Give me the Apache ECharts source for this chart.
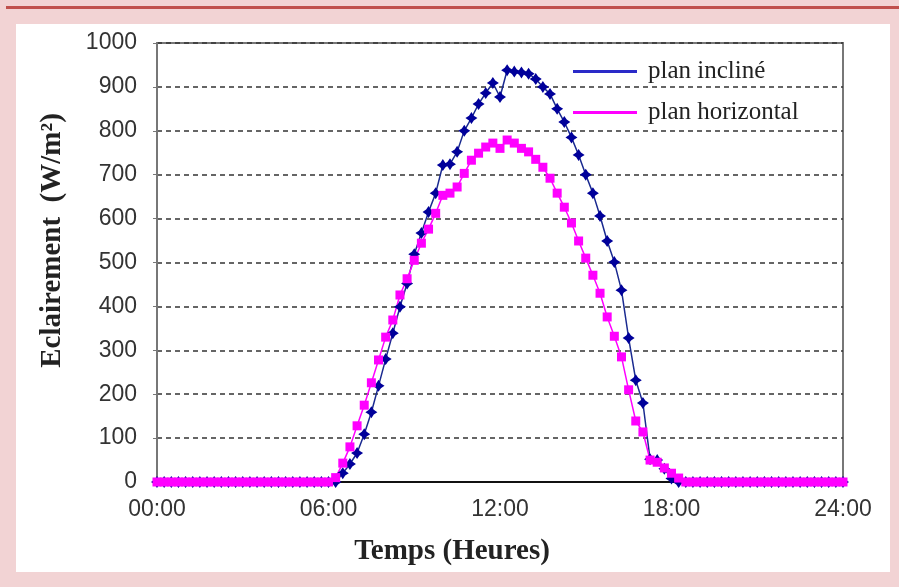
<!DOCTYPE html>
<html>
<head>
<meta charset="utf-8">
<script src="https://cdn.jsdelivr.net/npm/echarts@6/dist/echarts.min.js"></script>
<style>
  html, body { margin: 0; padding: 0; width: 899px; height: 587px; overflow: hidden; background: #f2d3d4; }
  #topline { position: absolute; left: 6px; top: 6px; width: 893px; height: 3px; background: #c0504d; }
  #panel { position: absolute; left: 16px; top: 24px; width: 874px; height: 548px; background: #ffffff; }
  #chart { position: absolute; left: 0; top: 0; width: 899px; height: 587px; }
</style>
</head>
<body>
<div id="topline"></div>
<div id="panel"></div>
<div id="chart"></div>
<script>
// mesures toutes les 15 minutes, de 00:00 a 24:00 (97 points)
var stepMinutes = 15
var xTicks = [0, 6, 12, 18, 24]

var planIncline = [
  0, 0, 0, 0, 0, 0, 0, 0, 0, 0, 0, 0, 0, 0, 0, 0, 0, 0, 0, 0, 0, 0, 0, 0, // 00:00 - 05:45
  0, 0, 20, 41, 66, 109, 159, 219, 280, 339, 399, 452,                     // 06:00 - 08:45
  519, 567, 615, 658, 722, 724, 752, 800, 829, 861, 886, 909,              // 09:00 - 11:45
  877, 938, 935, 933, 930, 918, 900, 884, 850, 820, 785, 745,              // 12:00 - 14:45
  700, 658, 606, 549, 501, 437, 328, 232, 180, 52, 50, 30,                 // 15:00 - 17:45
  8, 0, 0, 0, 0, 0, 0, 0, 0, 0, 0, 0, 0, 0, 0, 0, 0, 0, 0, 0, 0, 0, 0, 0,  // 18:00 - 23:45
  0                                                                        // 24:00
]

var planHorizontal = [
  0, 0, 0, 0, 0, 0, 0, 0, 0, 0, 0, 0, 0, 0, 0, 0, 0, 0, 0, 0, 0, 0, 0, 0,
  0, 10, 43, 80, 128, 175, 226, 278, 330, 369, 426, 463,
  505, 544, 576, 612, 653, 658, 672, 703, 733, 749, 763, 772,
  760, 779, 772, 760, 752, 735, 717, 692, 658, 626, 590, 549,
  510, 471, 430, 376, 332, 285, 210, 139, 114, 50, 45, 32,
  20, 9, 0, 0, 0, 0, 0, 0, 0, 0, 0, 0, 0, 0, 0, 0, 0, 0, 0, 0, 0, 0, 0, 0,
  0
]

function toPairs(values) {
  var out = []
  for (var i = 0; i < values.length; i++) {
    out.push([i * stepMinutes / 60, values[i]])
  }
  return out
}

function hourLabel(h) {
  return (h < 10 ? '0' : '') + h + ':00'
}

var starPath = 'path://M0,-10 L4,-4 L10,0 L4,4 L0,10 L-4,4 L-10,0 L-4,-4 Z'

var chart = echarts.init(document.getElementById('chart'))
chart.setOption({
  animation: false,
  grid: {
    left: 157,
    right: 56,
    top: 43,
    bottom: 105,
    show: true,
    borderColor: '#777',
    borderWidth: 2
  },
  legend: {
    orient: 'vertical',
    left: 568,
    top: 54,
    itemWidth: 64,
    itemHeight: 3,
    itemGap: 16,
    textStyle: {
      fontFamily: 'Liberation Serif',
      fontSize: 25,
      lineHeight: 25,
      color: '#222',
      padding: [0, 0, 0, 6]
    },
    data: [
      { name: 'plan incliné', icon: 'rect', itemStyle: { color: '#2a2ac8' } },
      { name: 'plan horizontal', icon: 'rect', itemStyle: { color: '#ff00ff' } }
    ]
  },
  xAxis: {
    type: 'value',
    min: 0,
    max: 24,
    interval: 6,
    name: 'Temps (Heures)',
    nameLocation: 'middle',
    nameGap: 55,
    nameTextStyle: {
      fontFamily: 'Liberation Serif',
      fontWeight: 'bold',
      fontSize: 29,
      color: '#222',
      padding: [0, 96, 0, 0]
    },
    axisLine: { lineStyle: { color: '#111', width: 2 } },
    axisTick: { show: false },
    axisLabel: {
      margin: 16,
      fontFamily: 'Liberation Sans',
      fontSize: 23,
      color: '#333',
      formatter: function (v) { return hourLabel(v) }
    },
    splitLine: { show: false }
  },
  yAxis: {
    type: 'value',
    min: 0,
    max: 1000,
    interval: 100,
    name: 'Eclairement  (W/m²)',
    nameLocation: 'middle',
    nameGap: 90,
    nameTextStyle: {
      fontFamily: 'Liberation Serif',
      fontWeight: 'bold',
      fontSize: 29,
      color: '#222',
      padding: [0, 0, 0, 44]
    },
    axisLine: { show: true, lineStyle: { color: '#777', width: 2 } },
    axisTick: { show: true, length: 4, lineStyle: { color: '#777' } },
    axisLabel: {
      margin: 20,
      fontFamily: 'Liberation Sans',
      fontSize: 23,
      color: '#333',
      formatter: function (v) { return String(v) }
    },
    splitLine: { lineStyle: { color: '#333', width: 1.5, type: [5, 4] } }
  },
  series: [
    {
      name: 'plan incliné',
      type: 'line',
      data: toPairs(planIncline),
      symbol: starPath,
      symbolSize: 12,
      lineStyle: { color: '#1a2a90', width: 1.5 },
      itemStyle: { color: '#00009a' }
    },
    {
      name: 'plan horizontal',
      type: 'line',
      data: toPairs(planHorizontal),
      symbol: 'rect',
      symbolSize: 9,
      lineStyle: { color: '#ff00ff', width: 1.5 },
      itemStyle: { color: '#ff00ff' }
    }
  ]
})
</script>
</body>
</html>
